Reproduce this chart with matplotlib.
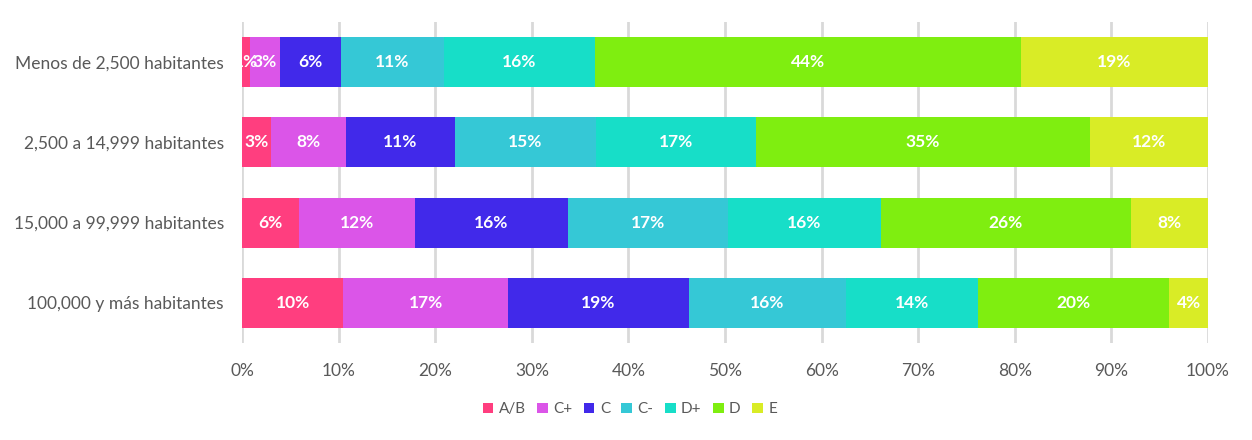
import numpy as np
import matplotlib.pyplot as plt

plt.rcParams['font.family'] = ['Lato', 'DejaVu Sans']

groups = ["Menos de 2,500 habitantes", "2,500 a 14,999 habitantes",
          "15,000 a 99,999 habitantes", "100,000 y más habitantes"]
levels = ["A/B", "C+", "C", "C-", "D+", "D", "E"]
colors = ["#FF3E7F", "#DB55E8", "#4129EA", "#35C8D6", "#17DEC8", "#7FEE10", "#D9EC26"]

ab = [0.8, 3.0, 5.9, 10.5]
cplus = [3.1, 7.8, 12.0, 17.0]
c = [6.3, 11.2, 15.8, 18.8]
cminus = [10.7, 14.6, 16.6, 16.2]
dplus = [15.6, 16.6, 15.8, 13.7]
d = [44.1, 34.6, 25.9, 19.8]
e = [19.4, 12.2, 8.0, 4.0]
series = [ab, cplus, c, cminus, dplus, d, e]

fig, ax = plt.subplots(figsize=(12.52, 4.4), dpi=100)
fig.subplots_adjust(left=0.1933, right=0.9649, top=0.951, bottom=0.22)

y = np.arange(len(groups))
left = np.zeros(len(groups))
for name, vals, col in zip(levels, series, colors):
    vals = np.array(vals)
    ax.barh(y, vals, left=left, height=0.62, color=col, label=name, zorder=3)
    for yi, l, v in zip(y, left, vals):
        ax.text(l + v / 2, yi, f"{round(v):.0f}%", ha="center", va="center",
                color="white", fontsize=12.5, fontweight="bold", zorder=4)
    left += vals

ax.set_xlim(0, 100)
ax.set_ylim(3.5, -0.5)
ax.set_yticks(y)
ax.set_yticklabels(groups)
ax.set_xticks(np.arange(0, 101, 10))
ax.set_xticklabels([f"{t}%" for t in range(0, 101, 10)])
ax.tick_params(axis="both", length=0, labelsize=12.5, colors="#595959")
ax.tick_params(axis="y", pad=13)
ax.tick_params(axis="x", pad=14)
ax.grid(axis="x", color="#d9d9d9", linewidth=2, zorder=0)
for s in ax.spines.values():
    s.set_visible(False)

fig.legend(*ax.get_legend_handles_labels(), loc="center", bbox_to_anchor=(0.503, 0.07),
           ncol=7, frameon=False, fontsize=11, handlelength=0.7, handleheight=0.7,
           handletextpad=0.35, columnspacing=0.75, labelcolor="#595959")

fig.savefig("out.png")
